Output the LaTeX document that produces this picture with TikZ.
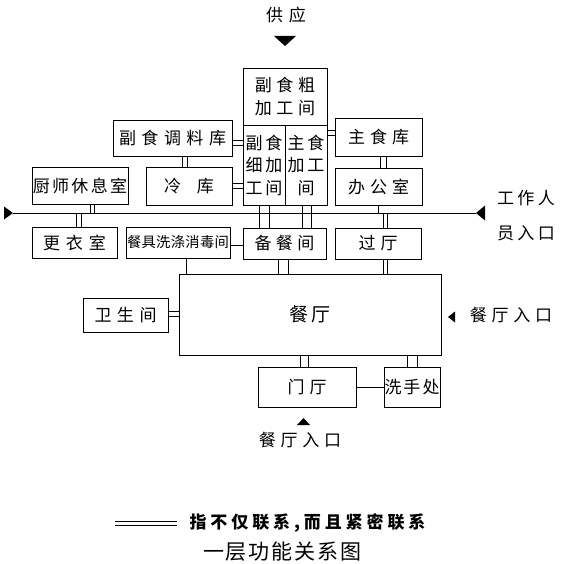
\documentclass[tikz,border=0pt]{standalone}
\usepackage{fontspec}
\newfontfamily\cjk{Noto Sans CJK SC}
\makeatletter
\newcommand\sptxt[2]{\let\sp@first\relax\def\sp@gap{#1}%
  \@tfor\sp@c:=#2\do{\sp@first\sp@c\def\sp@first{\kern\sp@gap}}}
\makeatother
% vertical double connector: x, separation, from, to
\newcommand\vdbl[4]{%
  \draw[con] ({#1-#2/2},0 |- #3) -- ({#1-#2/2},0 |- #4);
  \draw[con] ({#1+#2/2},0 |- #3) -- ({#1+#2/2},0 |- #4);}
% horizontal double connector: y, separation, from, to
\newcommand\hdbl[4]{%
  \draw[con] (#3 |- 0,{#1-#2/2}) -- (#4 |- 0,{#1-#2/2});
  \draw[con] (#3 |- 0,{#1+#2/2}) -- (#4 |- 0,{#1+#2/2});}
\tikzset{
  room/.style={draw, line width=0.9pt, inner sep=0pt, align=center,
    font=\cjk\fontsize{17}{22.5}\selectfont},
  lbl/.style={inner sep=0pt, align=center, font=\cjk\fontsize{17}{22}\selectfont},
  con/.style={line width=0.9pt},
  tri/.style={fill=black}
}
\begin{document}
\begin{tikzpicture}[x=1pt,y=-1pt]
\useasboundingbox (0,0) rectangle (562,564);
% rooms
\node[room, minimum width=84pt, minimum height=57pt] (cu) at (285,96.5) {\sptxt{4.7pt}{副食粗}\\\sptxt{4.7pt}{加工间}};
\node[room, minimum width=42pt, minimum height=80pt] (xi) at (264,165) {\sptxt{3pt}{副食}\\\sptxt{3pt}{细加}\\\sptxt{3pt}{工间}};
\node[room, minimum width=42pt, minimum height=80pt] (zhu) at (306,165) {\sptxt{3pt}{主食}\\\sptxt{3pt}{加工}\\间};
\node[room, minimum width=119pt, minimum height=36pt] (tiao) at (172.5,138) {\sptxt{5.5pt}{副食调料库}};
\node[room, minimum width=87pt, minimum height=38pt] (zhuku) at (378.5,137) {\sptxt{5pt}{主食库}};
\node[room, minimum width=86pt, minimum height=38pt] (leng) at (189,186) {\sptxt{16pt}{冷库}};
\node[room, minimum width=87pt, minimum height=37pt] (ban) at (378.5,186.5) {\sptxt{5pt}{办公室}};
\node[room, minimum width=96pt, minimum height=37pt] (chu) at (80,185.5) {\sptxt{2.3pt}{厨师休息室}};
\node[room, minimum width=85pt, minimum height=31pt] (gengyi) at (74.5,242.5) {\sptxt{6pt}{更衣室}};
\node[room, minimum width=104pt, minimum height=31pt, font=\cjk\fontsize{14.3}{16}\selectfont] (canju) at (178,242.5) {\sptxt{0.3pt}{餐具洗涤消毒间}};
\node[room, minimum width=83pt, minimum height=31pt] (beican) at (284.5,243.5) {\sptxt{4.5pt}{备餐间}};
\node[room, minimum width=86pt, minimum height=31pt] (guoting) at (378,243.5) {\sptxt{5pt}{过厅}};
\node[room, minimum width=262pt, minimum height=81pt, font=\cjk\fontsize{19}{22}\selectfont] (canting) at (310,314.5) {\sptxt{4pt}{餐厅}};
\node[room, minimum width=85pt, minimum height=34pt] (wsj) at (125.5,315) {\sptxt{5.5pt}{卫生间}};
\node[room, minimum width=98pt, minimum height=40pt] (menting) at (307,387) {\sptxt{5pt}{门厅}};
\node[room, minimum width=56pt, minimum height=40pt] (xishou) at (412,387) {\sptxt{2pt}{洗手处}};
% labels
\node[lbl] (gy) at (286,15) {\sptxt{6pt}{供应}};
\fill[tri] (274,36) -- (296,36) -- (285,46) -- cycle;
\node[lbl] (gzr1) at (526,198) {\sptxt{3.5pt}{工作人}};
\node[lbl] (gzr2) at (526,233) {\sptxt{3.5pt}{员入口}};
\node[lbl] (ctr) at (511,315) {\sptxt{4.7pt}{餐厅入口}};
\fill[tri] (448,317) -- (455,311.5) -- (455,322.5) -- cycle;
\node[lbl] (ctb) at (300,440) {\sptxt{4.7pt}{餐厅入口}};
\fill[tri] (303.5,418) -- (297,425) -- (310,425) -- cycle;
% staff corridor
\coordinate (wl) at (13,213);
\coordinate (wr) at (476,213);
\fill[tri] (13,213) -- (4,206.5) -- (4,219.5) -- cycle;
\fill[tri] (476,213) -- (485,205.5) -- (485,220.5) -- cycle;
\draw[con] (wl) -- (wr);
% connections
\hdbl{142.5}{5}{tiao.east}{xi.west}
\hdbl{185.5}{5}{leng.east}{xi.west}
\hdbl{132.5}{5}{zhu.east}{zhuku.west}
\vdbl{184.5}{5}{tiao.south}{leng.north}
\vdbl{383}{6}{zhuku.south}{ban.north}
\vdbl{92}{4}{chu.south}{wl}
\vdbl{78.5}{5}{wl}{gengyi.north}
\vdbl{264}{10}{xi.south}{beican.north}
\vdbl{306.5}{9}{zhu.south}{beican.north}
\draw[con] (378,0 |- ban.south) -- (378,0 |- wl);
\vdbl{385}{4}{wl}{guoting.north}
\draw[con] (canju.east |- 0,245) -- (beican.west |- 0,245);
\draw[con] (186,0 |- canju.south) -- (186,0 |- canting.north);
\vdbl{283.5}{10}{beican.south}{canting.north}
\vdbl{385}{4}{guoting.south}{canting.north}
\hdbl{313.5}{5}{wsj.east}{canting.west}
\vdbl{304}{8}{canting.south}{menting.north}
\vdbl{412}{10}{canting.south}{xishou.north}
\draw[con] (menting.east |- 0,387) -- (xishou.west |- 0,387);
% legend
\coordinate (lg1) at (115,523);
\coordinate (lg2) at (177,523);
\draw[con] ([yshift=2pt]lg1) -- ([yshift=2pt]lg2);
\draw[con] ([yshift=-2pt]lg1) -- ([yshift=-2pt]lg2);
\node[lbl, font=\cjk\bfseries\fontsize{17}{20}\selectfont] (lgt) at (307.5,523) {\sptxt{3.9pt}{指不仅联系,而且紧密联系}};
\node[lbl, font=\cjk\fontsize{21}{24}\selectfont] (cap) at (282.5,552) {\sptxt{2pt}{一层功能关系图}};
\end{tikzpicture}
\end{document}
